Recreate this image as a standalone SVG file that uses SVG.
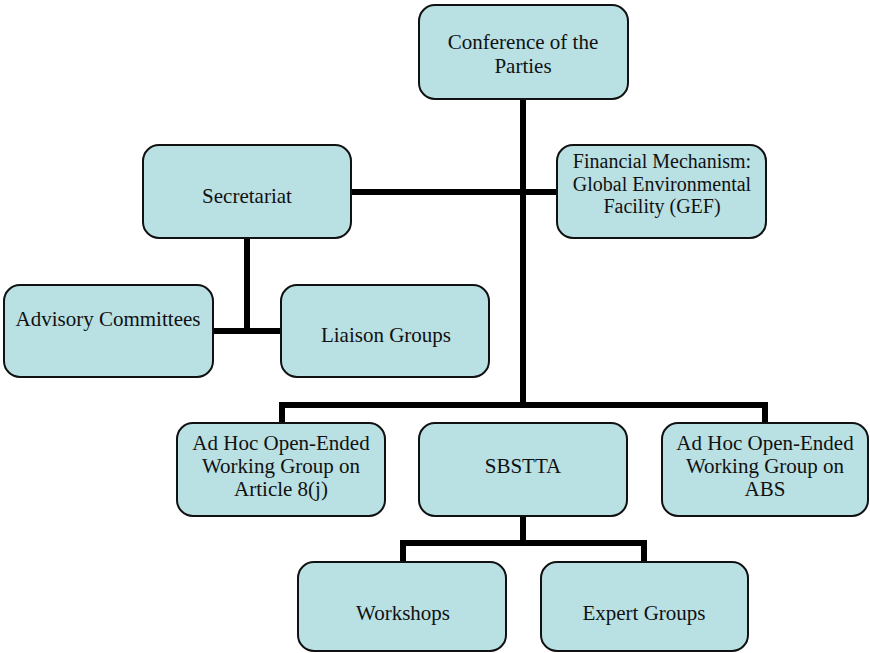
<svg xmlns="http://www.w3.org/2000/svg" width="870" height="653" viewBox="0 0 870 653">
<style>
.box{fill:#b9e0e3;stroke:#111;stroke-width:2}
.t{font-family:"Liberation Serif","Times New Roman",serif;font-size:21px;fill:#111;text-anchor:middle}
.s{font-size:20px}
.c{fill:none;stroke:#000;stroke-width:6;stroke-linejoin:miter}
</style>
<rect width="870" height="653" fill="#fff"/>
<g id="connectors">
<line class="c" x1="523" y1="99" x2="523" y2="405"/>
<polyline class="c" points="282,423 282,405 765,405 765,423"/>
<line class="c" x1="523" y1="516" x2="523" y2="543"/>
<polyline class="c" points="403,562 403,543 644,543 644,562"/>
<line class="c" x1="351" y1="192" x2="557" y2="192"/>
<line class="c" x1="247" y1="238" x2="247" y2="331"/>
<line class="c" x1="213" y1="331" x2="281" y2="331"/>
</g>
<g id="cop">
<rect class="box" x="419" y="5" width="209" height="94" rx="16"/>
<text class="t" x="523" y="49">Conference of the</text>
<text class="t" x="523" y="73">Parties</text>
</g>
<g id="secretariat">
<rect class="box" x="143" y="145" width="208" height="93" rx="16"/>
<text class="t" x="247" y="203">Secretariat</text>
</g>
<g id="financial">
<rect class="box" x="557" y="145" width="209" height="93" rx="16"/>
<text class="t s" x="662" y="168">Financial Mechanism:</text>
<text class="t s" x="662" y="191">Global Environmental</text>
<text class="t s" x="662" y="213">Facility (GEF)</text>
</g>
<g id="advisory">
<rect class="box" x="4" y="285" width="209" height="92" rx="16"/>
<text class="t" x="108" y="326">Advisory Committees</text>
</g>
<g id="liaison">
<rect class="box" x="281" y="285" width="208" height="92" rx="16"/>
<text class="t" x="386" y="342">Liaison Groups</text>
</g>
<g id="wg8j">
<rect class="box" x="177" y="423" width="208" height="93" rx="16"/>
<text class="t" x="281" y="450">Ad Hoc Open-Ended</text>
<text class="t" x="281" y="473">Working Group on</text>
<text class="t" x="281" y="496">Article 8(j)</text>
</g>
<g id="sbstta">
<rect class="box" x="419" y="423" width="208" height="93" rx="16"/>
<text class="t" x="523" y="473">SBSTTA</text>
</g>
<g id="wgabs">
<rect class="box" x="662" y="423" width="206" height="93" rx="16"/>
<text class="t" x="765" y="450">Ad Hoc Open-Ended</text>
<text class="t" x="765" y="473">Working Group on</text>
<text class="t" x="765" y="496">ABS</text>
</g>
<g id="workshops">
<rect class="box" x="298" y="562" width="208" height="89" rx="16"/>
<text class="t" x="403" y="620">Workshops</text>
</g>
<g id="expert">
<rect class="box" x="541" y="562" width="207" height="89" rx="16"/>
<text class="t" x="644" y="620">Expert Groups</text>
</g>
</svg>
